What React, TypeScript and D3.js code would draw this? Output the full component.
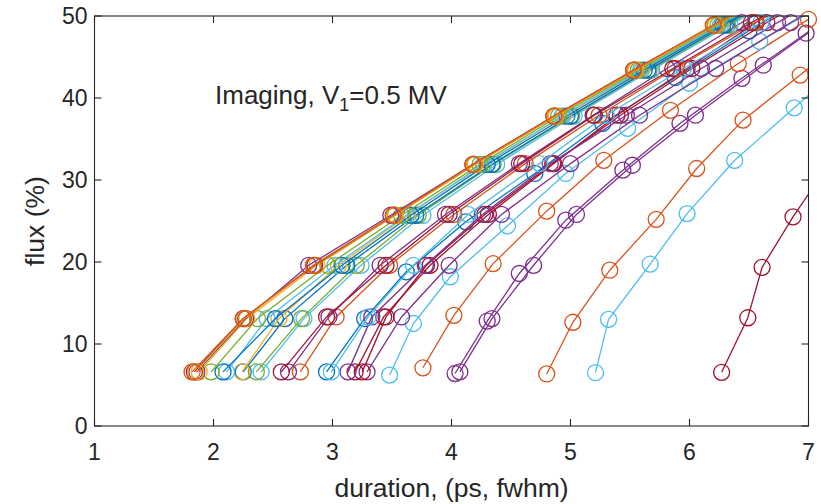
import React from 'react';
import * as d3 from 'd3';

const W = 821;
const H = 504;
const PLOT = { left: 94.5, right: 808.5, top: 16, bottom: 426 };

const X_DOMAIN: [number, number] = [1, 7];
const Y_DOMAIN: [number, number] = [0, 50];
const X_TICKS = [1, 2, 3, 4, 5, 6, 7];
const Y_TICKS = [0, 10, 20, 30, 40, 50];

const BLUE = '#0072BD';
const ORANGE = '#D95319';
const YELLOW = '#EDB120';
const PURPLE = '#7E2F8E';
const GREEN = '#77AC30';
const CYAN = '#4DBEEE';
const RED = '#A2142F';

// flux levels (%) shared by the short-pulse runs
const FLUX_FAST = [6.6, 13.1, 19.6, 25.7, 31.9, 37.8, 43.4, 48.9, 54.3];
const FLUX_MID = [6.6, 13.3, 19.6, 25.8, 32.0, 37.9, 43.6, 49.2, 54.6];

// durations (ps, fwhm) for each run
const DUR_Y1 = [1.88, 2.28, 2.87, 3.53, 4.2, 4.88, 5.55, 6.22, 6.89];
const DUR_G1 = [1.98, 2.37, 2.96, 3.58, 4.24, 4.9, 5.57, 6.24, 6.9];
const DUR_B1 = [2.08, 2.52, 3.08, 3.66, 4.3, 4.97, 5.62, 6.28, 6.94];
const DUR_C1 = [2.11, 2.45, 3.02, 3.62, 4.27, 4.93, 5.59, 6.26, 6.92];
const DUR_Y2 = [2.24, 2.55, 3.05, 3.63, 4.27, 4.94, 5.6, 6.27, 6.93];
const DUR_B2 = [2.25, 2.6, 3.12, 3.7, 4.34, 5.0, 5.65, 6.3, 6.96];
const DUR_G2 = [2.36, 2.74, 3.2, 3.72, 4.35, 5.01, 5.66, 6.32, 6.98];
const DUR_C2 = [2.4, 2.76, 3.24, 3.76, 4.38, 5.03, 5.68, 6.34, 7.0];
const DUR_P1 = [1.86, 2.27, 2.8, 3.49, 4.18, 4.86, 5.53, 6.21, 6.88];
const DUR_R1 = [1.84, 2.25, 2.85, 3.52, 4.19, 4.87, 5.54, 6.21, 6.88];
const DUR_Y3 = [1.85, 2.26, 2.84, 3.52, 4.19, 4.87, 5.54, 6.21, 6.88];
const DUR_O1 = [1.82, 2.25, 2.84, 3.51, 4.18, 4.86, 5.53, 6.2, 6.87];

const DUR_R2 = [2.57, 2.95, 3.45, 3.98, 4.59, 5.2, 5.86, 6.52, 7.18];
const DUR_P2 = [2.63, 2.97, 3.4, 3.95, 4.57, 5.19, 5.81, 6.44, 7.08];
const DUR_O2 = [2.73, 3.03, 3.48, 4.02, 4.62, 5.24, 5.88, 6.55, 7.2];
const DUR_C3 = [2.99, 3.3, 3.68, 4.14, 4.74, 5.3, 5.95, 6.6, 7.25];
const DUR_P3 = [3.13, 3.33, 3.78, 4.26, 4.83, 5.47, 6.1, 6.74, 7.4];
const DUR_R3 = [3.19, 3.43, 3.82, 4.31, 4.86, 5.39, 5.98, 6.56, 7.18];
const DUR_R4 = [3.25, 3.45, 3.79, 4.28, 4.85, 5.42, 6.02, 6.65, 7.3];
const DUR_P4 = [3.29, 3.58, 3.98, 4.42, 5.0, 5.58, 6.22, 6.85, 7.5];

const DUR_B3 = [2.95, 3.27, 3.62, 4.12, 4.7, 5.27, 5.88, 6.5, 7.15];
const FLUX_B3 = [6.6, 13.1, 18.8, 24.9, 30.8, 36.9, 42.5, 48.2, 53.8];

const DUR_C4 = [3.48, 3.68, 3.99, 4.47, 4.96, 5.48, 6.0, 6.59, 7.2];
const FLUX_C4 = [6.2, 12.5, 18.2, 24.4, 30.8, 36.3, 41.8, 46.9, 52.0];

const DUR_O3 = [3.76, 4.02, 4.35, 4.8, 5.28, 5.84, 6.41, 7.0];
const FLUX_O3 = [7.1, 13.5, 19.8, 26.2, 32.4, 38.5, 44.2, 49.6];

const DUR_P5 = [4.03, 4.3, 4.57, 4.96, 5.44, 5.92, 6.44, 6.98, 7.5];
const FLUX_P5 = [6.4, 12.8, 18.6, 25.1, 31.2, 36.9, 42.4, 47.9, 53.0];

const DUR_P6 = [4.07, 4.34, 4.69, 5.05, 5.52, 6.05, 6.62, 7.15];
const FLUX_P6 = [6.6, 13.1, 19.6, 25.8, 31.8, 37.9, 44.0, 49.5];

const DUR_O4 = [4.8, 5.02, 5.33, 5.72, 6.06, 6.45, 6.93, 7.4];
const FLUX_O4 = [6.35, 12.65, 19.0, 25.2, 31.4, 37.3, 42.8, 48.2];

const DUR_C5 = [5.21, 5.32, 5.67, 5.98, 6.38, 6.88, 7.35];
const FLUX_C5 = [6.5, 13.0, 19.75, 25.9, 32.4, 38.8, 44.8];

const DUR_R5 = [6.27, 6.49, 6.61, 6.87, 7.15];
const FLUX_R5 = [6.55, 13.2, 19.35, 25.5, 31.5];

type Run = { color: string; dur: number[]; flux: number[] };

const RUNS: Run[] = [
  { color: RED, dur: DUR_R5, flux: FLUX_R5 },
  { color: CYAN, dur: DUR_C5, flux: FLUX_C5 },
  { color: ORANGE, dur: DUR_O4, flux: FLUX_O4 },
  { color: PURPLE, dur: DUR_P6, flux: FLUX_P6 },
  { color: PURPLE, dur: DUR_P5, flux: FLUX_P5 },
  { color: ORANGE, dur: DUR_O3, flux: FLUX_O3 },
  { color: CYAN, dur: DUR_C4, flux: FLUX_C4 },
  { color: BLUE, dur: DUR_B3, flux: FLUX_B3 },
  { color: PURPLE, dur: DUR_P4, flux: FLUX_MID },
  { color: RED, dur: DUR_R4, flux: FLUX_MID },
  { color: RED, dur: DUR_R3, flux: FLUX_MID },
  { color: PURPLE, dur: DUR_P3, flux: FLUX_MID },
  { color: CYAN, dur: DUR_C3, flux: FLUX_MID },
  { color: ORANGE, dur: DUR_O2, flux: FLUX_MID },
  { color: PURPLE, dur: DUR_P2, flux: FLUX_MID },
  { color: RED, dur: DUR_R2, flux: FLUX_MID },
  { color: CYAN, dur: DUR_C2, flux: FLUX_FAST },
  { color: GREEN, dur: DUR_G2, flux: FLUX_FAST },
  { color: BLUE, dur: DUR_B2, flux: FLUX_FAST },
  { color: YELLOW, dur: DUR_Y2, flux: FLUX_FAST },
  { color: CYAN, dur: DUR_C1, flux: FLUX_FAST },
  { color: BLUE, dur: DUR_B1, flux: FLUX_FAST },
  { color: GREEN, dur: DUR_G1, flux: FLUX_FAST },
  { color: YELLOW, dur: DUR_Y1, flux: FLUX_FAST },
  { color: PURPLE, dur: DUR_P1, flux: FLUX_FAST },
  { color: RED, dur: DUR_R1, flux: FLUX_FAST },
  { color: YELLOW, dur: DUR_Y3, flux: FLUX_FAST },
  { color: ORANGE, dur: DUR_O1, flux: FLUX_FAST },
];

const AXIS_COLOR = '#262626';
const FONT = '"Liberation Sans", Arial, Helvetica, sans-serif';
const TICK_LEN = 7;

export default function App() {
  const x = d3.scaleLinear().domain(X_DOMAIN).range([PLOT.left, PLOT.right]);
  const y = d3.scaleLinear().domain(Y_DOMAIN).range([PLOT.bottom, PLOT.top]);

  const line = d3
    .line<[number, number]>()
    .x((d) => x(d[0]))
    .y((d) => y(d[1]));

  const inside = (dx: number, fy: number) =>
    dx >= X_DOMAIN[0] && dx <= X_DOMAIN[1] && fy >= Y_DOMAIN[0] && fy <= Y_DOMAIN[1];

  return (
    <svg
      width={W}
      height={H}
      style={{ position: 'absolute', left: 0, top: 0, background: '#fff' }}
      fontFamily={FONT}
    >
      <defs>
        <clipPath id="plot-clip">
          <rect
            x={PLOT.left}
            y={PLOT.top}
            width={PLOT.right - PLOT.left}
            height={PLOT.bottom - PLOT.top}
          />
        </clipPath>
      </defs>

      {/* runs: connecting lines clipped to the axes, markers shown when their centre is inside */}
      {RUNS.map((run, i) => {
        const pts = run.dur.map((d, k) => [d, run.flux[k]] as [number, number]);
        return (
          <g key={i}>
            <path
              d={line(pts) ?? ''}
              fill="none"
              stroke={run.color}
              strokeWidth={1.3}
              clipPath="url(#plot-clip)"
            />
            {pts
              .filter((p) => inside(p[0], p[1]))
              .map((p, k) => (
                <circle
                  key={k}
                  cx={x(p[0])}
                  cy={y(p[1])}
                  r={8}
                  fill="none"
                  stroke={run.color}
                  strokeWidth={1.3}
                />
              ))}
          </g>
        );
      })}

      {/* axes box */}
      <rect
        x={PLOT.left}
        y={PLOT.top}
        width={PLOT.right - PLOT.left}
        height={PLOT.bottom - PLOT.top}
        fill="none"
        stroke={AXIS_COLOR}
        strokeWidth={1.1}
      />

      {/* x ticks (bottom and top, pointing inward) */}
      {X_TICKS.map((t) => (
        <g key={`x${t}`}>
          <line x1={x(t)} x2={x(t)} y1={PLOT.bottom} y2={PLOT.bottom - TICK_LEN} stroke={AXIS_COLOR} strokeWidth={1.1} />
          <line x1={x(t)} x2={x(t)} y1={PLOT.top} y2={PLOT.top + TICK_LEN} stroke={AXIS_COLOR} strokeWidth={1.1} />
          <text x={x(t)} y={PLOT.bottom + 34} textAnchor="middle" fontSize={23} fill={AXIS_COLOR}>
            {t}
          </text>
        </g>
      ))}

      {/* y ticks (left and right, pointing inward) */}
      {Y_TICKS.map((t) => (
        <g key={`y${t}`}>
          <line x1={PLOT.left} x2={PLOT.left + TICK_LEN} y1={y(t)} y2={y(t)} stroke={AXIS_COLOR} strokeWidth={1.1} />
          <line x1={PLOT.right} x2={PLOT.right - TICK_LEN} y1={y(t)} y2={y(t)} stroke={AXIS_COLOR} strokeWidth={1.1} />
          <text x={PLOT.left - 7} y={y(t) + 8.2} textAnchor="end" fontSize={23} fill={AXIS_COLOR}>
            {t}
          </text>
        </g>
      ))}

      {/* axis labels */}
      <text
        x={(PLOT.left + PLOT.right) / 2}
        y={497}
        textAnchor="middle"
        fontSize={26.5}
        fill={AXIS_COLOR}
      >
        duration, (ps, fwhm)
      </text>
      <text
        transform={`translate(44, ${(PLOT.top + PLOT.bottom) / 2}) rotate(-90)`}
        textAnchor="middle"
        fontSize={26.5}
        fill={AXIS_COLOR}
      >
        flux (%)
      </text>

      {/* annotation */}
      <text x={215} y={104} fontSize={26} fill={AXIS_COLOR}>
        Imaging, V
        <tspan fontSize={18} dy={7}>1</tspan>
        <tspan dy={-7}>=0.5 MV</tspan>
      </text>
    </svg>
  );
}
